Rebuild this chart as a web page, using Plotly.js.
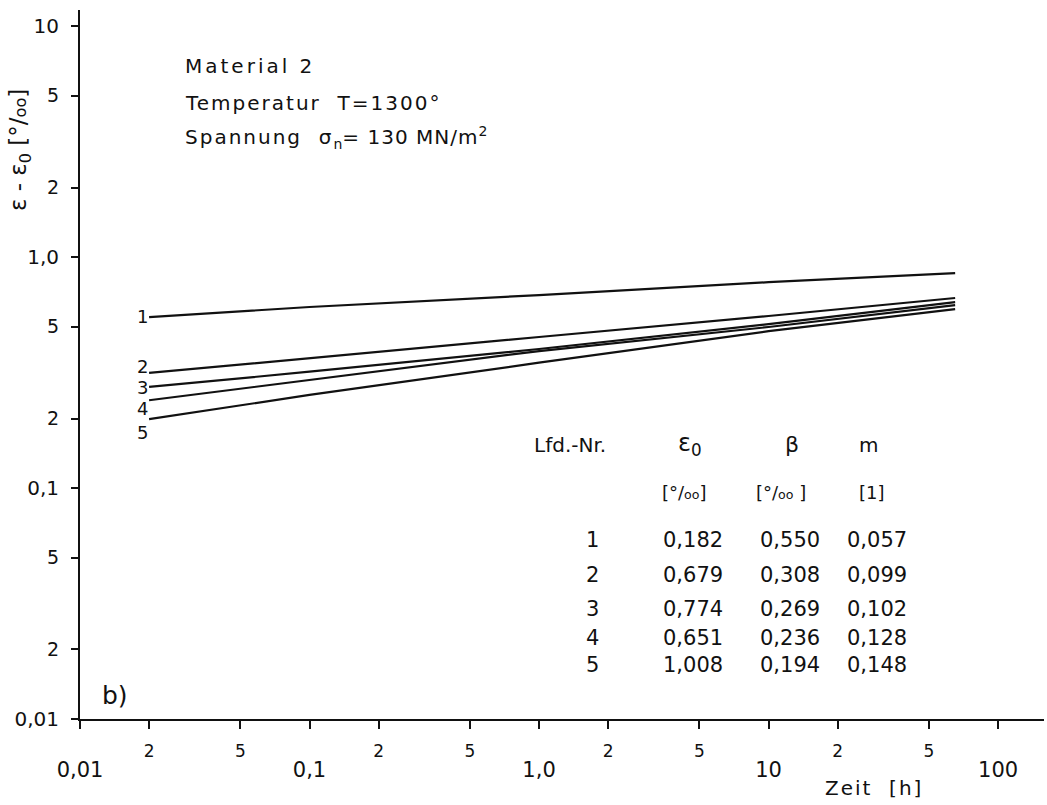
<!DOCTYPE html>
<html>
<head>
<meta charset="utf-8">
<script src="https://cdn.plot.ly/plotly-3.0.1.min.js"></script>
<style>html,body{margin:0;padding:0;background:#fff;}#chart{width:1047px;height:805px;}</style>
</head>
<body>
<div id="chart"></div>
<script>
// ---- data ----
const timeHours = [0.02, 0.1, 1, 10, 65];
const curve1 = [0.550, 0.608, 0.685, 0.779, 0.853];
const curve2 = [0.315, 0.364, 0.451, 0.556, 0.665];
const curve3 = [0.274, 0.319, 0.400, 0.513, 0.638];
const curve4 = [0.240, 0.294, 0.392, 0.498, 0.620];
const curve5 = [0.199, 0.253, 0.349, 0.478, 0.595];
const curveNames = ['1', '2', '3', '4', '5'];

const xTickVals = [0.01, 0.02, 0.05, 0.1, 0.2, 0.5, 1, 2, 5, 10, 20, 50, 100];
const xMinorText = ['', '2', '5', '', '2', '5', '', '2', '5', '', '2', '5', ''];
const xDecadeVals = [0.01, 0.1, 1, 10, 100];
const xDecadeText = ['0,01', '0,1', '1,0', '10', '100'];
const yTickVals = [0.01, 0.02, 0.05, 0.1, 0.2, 0.5, 1, 2, 5, 10];
const yMinorText = ['', '2', '5', '', '2', '5', '', '2', '5', ''];
const yDecadeVals = [0.01, 0.1, 1, 10];
const yDecadeText = ['0,01', '0,1', '1,0', '10'];

const tableNr = ['1', '2', '3', '4', '5'];
const tableEps0 = ['0,182', '0,679', '0,774', '0,651', '1,008'];
const tableBeta = ['0,550', '0,308', '0,269', '0,236', '0,194'];
const tableM = ['0,057', '0,099', '0,102', '0,128', '0,148'];

// ---- layout helpers (pixel -> paper) ----
const W = 1047, H = 805, ML = 80, MR = 3, MT = 10, MB = 86;
const px = v => (v - ML) / (W - ML - MR);
const py = v => (H - MB - v) / (H - MT - MB);

const FONT = '"DejaVu Sans", "Open Sans", sans-serif';
const TFONT = '"DejaVu Sans", "Open Sans", sans-serif';
const small = s => '<span style="font-size:70%">' + s + '</span>';
const spaced = (s, n) => '<span style="letter-spacing:' + n + 'px">' + s + '</span>';

const curves = [curve1, curve2, curve3, curve4, curve5];
const traces = curves.map((c, i) => ({
  x: timeHours, y: c, type: 'scatter', mode: 'lines', name: curveNames[i],
  line: {color: '#111', width: 2.2}, hoverinfo: 'skip', showlegend: false
}));
traces.push({x: [], y: [], xaxis: 'x2', yaxis: 'y', type: 'scatter', showlegend: false});
traces.push({x: [], y: [], xaxis: 'x', yaxis: 'y2', type: 'scatter', showlegend: false});

const ann = [];
function txt(t, x, y, opt) {
  ann.push(Object.assign({text: t, x: px(x), y: py(y), xref: 'paper', yref: 'paper',
    showarrow: false, xanchor: 'left', yanchor: 'middle',
    font: {family: TFONT, size: 20, color: '#111'}}, opt || {}));
}
txt(spaced('Material 2', 3), 183, 66);
txt(spaced('Temperatur  T=1300°', 2), 183, 103);
txt(spaced('Spannung  σ', 2) + '<sub>n</sub>' + spaced('= 130 MN/m', 1) + '<sup>2</sup>', 183, 137);
txt('b)', 100, 695, {font: {family: TFONT, size: 25, color: '#111'}});
txt('ε - ε<sub>0</sub> [°/' + small('oo') + ']', 20, 150, {textangle: -90, xanchor: 'center',
  font: {family: FONT, size: 23, color: '#111'}});
txt(spaced('Zeit  [h]', 2), 874, 788, {xanchor: 'center', font: {family: TFONT, size: 20, color: '#111'}});

// curve labels at the start of each line
const curveLabelY = [316, 366, 387, 408, 432];
curveNames.forEach((n, i) => txt(n, 150, curveLabelY[i], {xanchor: 'right',
  font: {family: FONT, size: 18, color: '#111'}}));

// parameter table
const colX = [592, 693, 790, 877];
const rowY = [540, 575, 609, 638, 665];
txt('Lfd.-Nr.', 570, 445, {xanchor: 'center', font: {family: TFONT, size: 20, color: '#111'}});
txt('ε<sub>0</sub>', 690, 445, {xanchor: 'center', font: {family: TFONT, size: 24, color: '#111'}});
txt('β', 792, 445, {xanchor: 'center', font: {family: TFONT, size: 22, color: '#111'}});
txt('m', 868, 445, {xanchor: 'center', font: {family: TFONT, size: 20, color: '#111'}});
txt('[°/' + small('oo') + ']', 684, 492, {xanchor: 'center', font: {family: TFONT, size: 18, color: '#111'}});
txt('[°/' + small('oo') + ' ]', 781, 492, {xanchor: 'center', font: {family: TFONT, size: 18, color: '#111'}});
txt('[1]', 872, 492, {xanchor: 'center', font: {family: TFONT, size: 18, color: '#111'}});
tableNr.forEach((n, i) => {
  const f = {family: TFONT, size: 21, color: '#111'};
  txt(n, colX[0], rowY[i], {xanchor: 'center', font: f});
  txt(tableEps0[i], colX[1], rowY[i], {xanchor: 'center', font: f});
  txt(tableBeta[i], colX[2], rowY[i], {xanchor: 'center', font: f});
  txt(tableM[i], colX[3], rowY[i], {xanchor: 'center', font: f});
});

const xr = [-2, 2.2], yr = [-2, 1.07];
const layout = {
  width: W, height: H, margin: {l: ML, r: MR, t: MT, b: MB, pad: 0},
  paper_bgcolor: '#fff', plot_bgcolor: '#fff', showlegend: false, hovermode: false,
  xaxis: {type: 'log', range: xr, showgrid: false, zeroline: false, showline: true,
    linecolor: '#111', linewidth: 2, ticks: 'outside', ticklen: 8, tickwidth: 2, tickcolor: '#111',
    tickmode: 'array', tickvals: xTickVals, ticktext: xMinorText, ticklabelstandoff: 8,
    tickfont: {family: FONT, size: 17, color: '#111'}},
  xaxis2: {type: 'log', range: xr, overlaying: 'x', anchor: 'y', side: 'bottom',
    showgrid: false, zeroline: false, showline: false, ticks: '',
    tickmode: 'array', tickvals: xDecadeVals, ticktext: xDecadeText, ticklabelstandoff: 36,
    tickfont: {family: FONT, size: 21, color: '#111'}},
  yaxis: {type: 'log', range: yr, showgrid: false, zeroline: false, showline: true,
    linecolor: '#111', linewidth: 2, ticks: 'outside', ticklen: 7, tickwidth: 2, tickcolor: '#111',
    tickmode: 'array', tickvals: yTickVals, ticktext: yMinorText, ticklabelstandoff: 8,
    tickfont: {family: FONT, size: 19, color: '#111'}},
  yaxis2: {type: 'log', range: yr, overlaying: 'y', anchor: 'x', side: 'left',
    showgrid: false, zeroline: false, showline: false, ticks: '',
    tickmode: 'array', tickvals: yDecadeVals, ticktext: yDecadeText, ticklabelstandoff: 20,
    tickfont: {family: FONT, size: 20, color: '#111'}},
  annotations: ann
};
Plotly.newPlot('chart', traces, layout, {displayModeBar: false, staticPlot: true});
</script>
</body>
</html>
